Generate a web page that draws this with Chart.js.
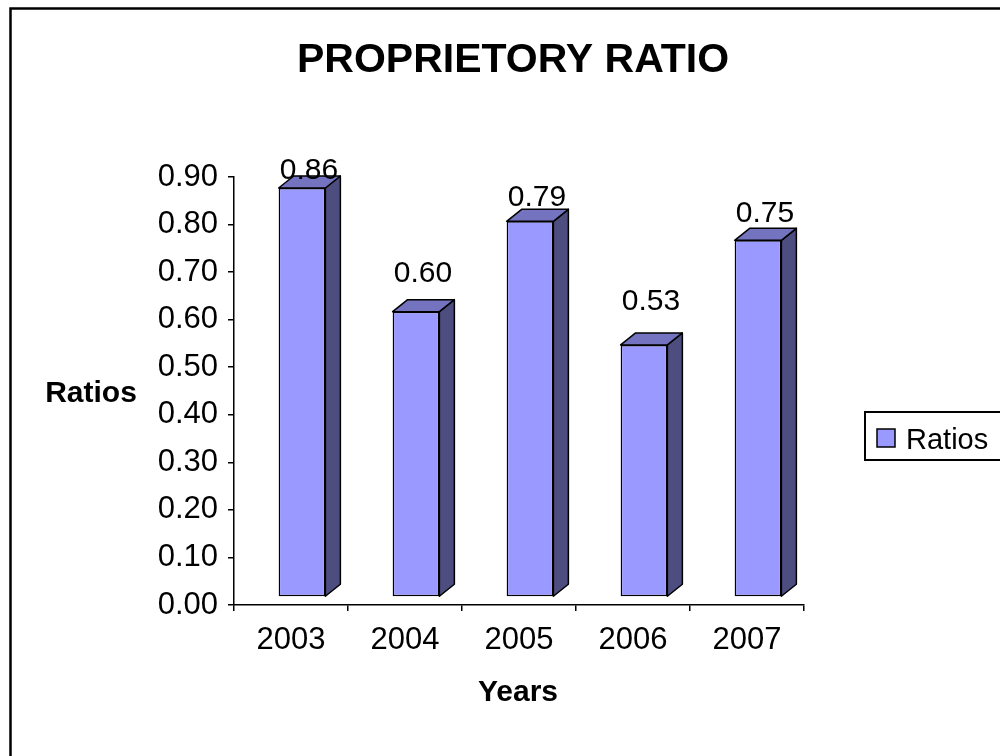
<!DOCTYPE html>
<html lang="en">
<head>
  <meta charset="UTF-8">
  <title>Proprietory Ratio</title>
  <script src="https://cdn.jsdelivr.net/npm/chart.js"></script>
  <style>
    body {
      margin: 0;
      background: #ffffff;
    }
    canvas {
      display: block;
    }
  </style>
</head>
<body>
  <canvas id="ratioChart" width="1000" height="756"></canvas>

  <script>
    const years = ['2003', '2004', '2005', '2006', '2007'];
    const ratios = [0.86, 0.60, 0.79, 0.53, 0.75];
    const seriesName = 'Ratios';

    const FONT = "'Liberation Sans', Arial, sans-serif";
    const FRONT = '#9999ff';
    const SIDE = '#4d4d80';
    const TOP = '#7373bf';

    // front face is pushed right/up, depth goes further back
    const shift = { x: 11, y: -8 };
    const depth = { x: 15, y: -12 };

    // Extruded bars: shift the library's bars, then add the side and top faces
    const bars3d = {
      id: 'bars3d',
      beforeDatasetsDraw(chart) {
        chart.ctx.save();
        chart.ctx.translate(shift.x, shift.y);
      },
      afterDatasetsDraw(chart) {
        const ctx = chart.ctx;
        const meta = chart.getDatasetMeta(0);
        ctx.lineWidth = 1.5;
        ctx.strokeStyle = '#000';
        ctx.lineJoin = 'round';
        meta.data.forEach(bar => {
          const l = bar.x - bar.width / 2;
          const r = bar.x + bar.width / 2;
          const t = bar.y;
          const b = bar.base;

          ctx.fillStyle = SIDE;
          ctx.beginPath();
          ctx.moveTo(r, t);
          ctx.lineTo(r + depth.x, t + depth.y);
          ctx.lineTo(r + depth.x, b + depth.y);
          ctx.lineTo(r, b);
          ctx.closePath();
          ctx.fill();
          ctx.stroke();

          ctx.fillStyle = TOP;
          ctx.beginPath();
          ctx.moveTo(l, t);
          ctx.lineTo(l + depth.x, t + depth.y);
          ctx.lineTo(r + depth.x, t + depth.y);
          ctx.lineTo(r, t);
          ctx.closePath();
          ctx.fill();
          ctx.stroke();
        });
        ctx.restore();

        // value labels sit on the receding plane, so they rise a bit slower than the bars
        const yScale = chart.scales.y;
        ctx.save();
        ctx.fillStyle = '#000';
        ctx.font = '30px ' + FONT;
        ctx.textAlign = 'center';
        ctx.textBaseline = 'alphabetic';
        meta.data.forEach((bar, i) => {
          const p = yScale.getPixelForValue(ratios[i]);
          ctx.fillText(ratios[i].toFixed(2), bar.x + 18, 14.7 + 0.836 * p);
        });
        ctx.restore();
      }
    };

    // Frame, title, axis titles and the boxed legend
    const decorations = {
      id: 'decorations',
      beforeDraw(chart) {
        const ctx = chart.ctx;
        ctx.save();
        ctx.fillStyle = '#fff';
        ctx.fillRect(0, 0, chart.width, chart.height);
        ctx.strokeStyle = '#000';
        ctx.lineWidth = 2.5;
        ctx.strokeRect(10.5, 8.5, chart.width + 20, chart.height + 20);
        ctx.restore();
      },
      afterDraw(chart) {
        const ctx = chart.ctx;
        ctx.save();
        ctx.fillStyle = '#000';
        ctx.textBaseline = 'alphabetic';
        ctx.textAlign = 'center';

        ctx.font = 'bold 41px ' + FONT;
        ctx.fillText('PROPRIETORY RATIO', 513, 72);

        ctx.font = 'bold 30px ' + FONT;
        ctx.fillText('Ratios', 91, 402);
        ctx.fillText('Years', 518, 701);

        // legend
        const ds = chart.data.datasets[0];
        ctx.lineWidth = 2;
        ctx.strokeStyle = '#000';
        ctx.strokeRect(865, 412, 150, 48);
        ctx.fillStyle = ds.backgroundColor;
        ctx.lineWidth = 1.5;
        ctx.fillRect(877, 429, 18, 18);
        ctx.strokeRect(877, 429, 18, 18);
        ctx.fillStyle = '#000';
        ctx.textAlign = 'left';
        ctx.font = '29px ' + FONT;
        ctx.fillText(ds.label, 906, 449);
        ctx.restore();
      }
    };

    new Chart(document.getElementById('ratioChart'), {
      type: 'bar',
      data: {
        labels: years,
        datasets: [{
          label: seriesName,
          data: ratios,
          backgroundColor: FRONT,
          borderColor: '#000',
          borderWidth: 1.5,
          borderSkipped: false,
          barPercentage: 0.41,
          categoryPercentage: 1
        }]
      },
      options: {
        responsive: false,
        animation: false,
        layout: {
          padding: { top: 177, right: 196, bottom: 0, left: 0 }
        },
        plugins: {
          legend: { display: false },
          title: { display: false },
          tooltip: { enabled: false }
        },
        scales: {
          x: {
            grid: {
              drawOnChartArea: false,
              drawTicks: true,
              tickLength: 6,
              color: '#000',
              lineWidth: 1.5,
              offset: true
            },
            border: { display: true, color: '#000', width: 1.5 },
            ticks: { color: '#000', font: { family: FONT, size: 31 }, padding: 11, maxRotation: 0 },
            afterFit(scale) { scale.height = 151; }
          },
          y: {
            min: 0,
            max: 0.9,
            grid: {
              drawOnChartArea: false,
              drawTicks: true,
              tickLength: 6,
              color: '#000',
              lineWidth: 1.5
            },
            border: { display: true, color: '#000', width: 1.5 },
            ticks: {
              stepSize: 0.1,
              color: '#000',
              font: { family: FONT, size: 31 },
              padding: 10,
              callback: v => v.toFixed(2)
            },
            afterFit(scale) { scale.width = 234; }
          }
        }
      },
      plugins: [decorations, bars3d]
    });
  </script>
</body>
</html>
